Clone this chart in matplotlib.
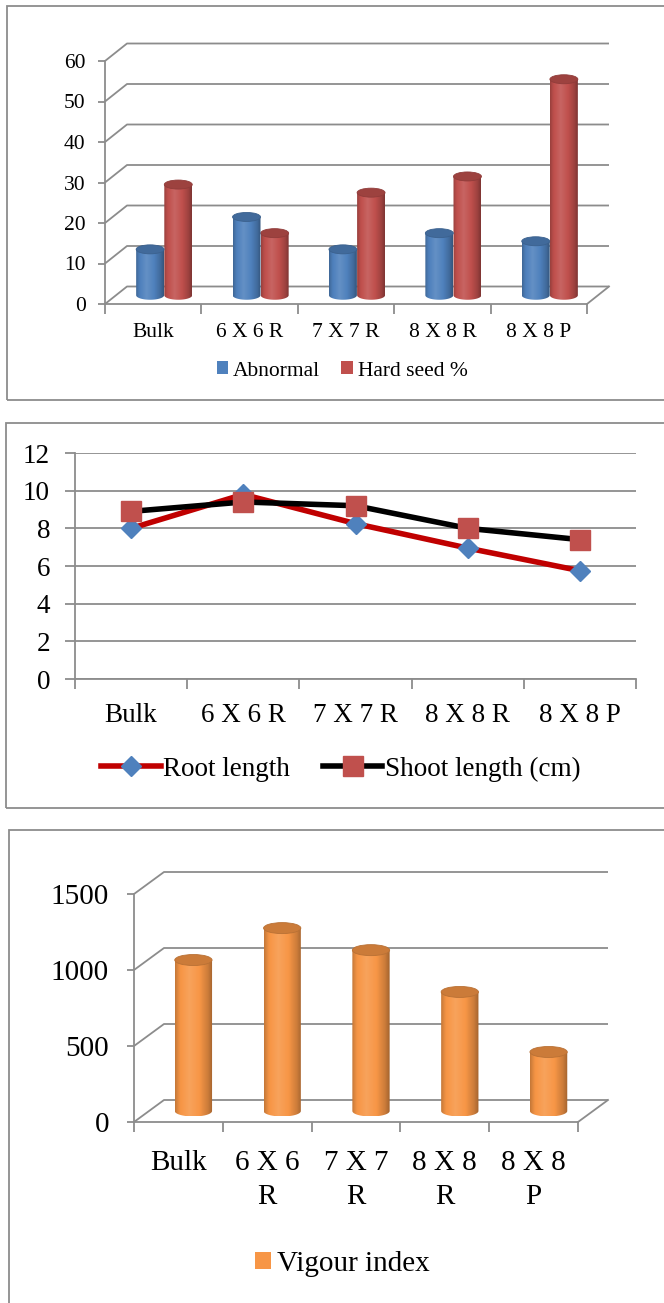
import numpy as np
import matplotlib
matplotlib.use("Agg")
import matplotlib.pyplot as plt
from matplotlib.patches import Rectangle, Ellipse, PathPatch, Patch
from matplotlib.path import Path
from matplotlib.colors import to_rgb

plt.rcParams['font.family'] = ['Liberation Serif', 'DejaVu Serif']

# ---------------- data ----------------
categories = ["Bulk", "6 X 6 R", "7 X 7 R", "8 X 8 R", "8 X 8 P"]
categories_wrapped = ["Bulk", "6 X 6\nR", "7 X 7\nR", "8 X 8\nR", "8 X 8\nP"]

abnormal = [12, 20, 12, 16, 14]
hard_seed = [28, 16, 26, 30, 54]

root_length = [8.0, 9.8, 8.25, 6.95, 5.75]
shoot_length = [8.9, 9.4, 9.2, 8.0, 7.4]

vigour_index = [1015, 1225, 1080, 805, 410]

W, H = 664, 1303
fig = plt.figure(figsize=(W / 100, H / 100), dpi=100)
fig.patch.set_facecolor("white")

GRID = "#8c8c8c"
BORDER = "#8c8c8c"


def px_axes(l, t, r, b):
    return fig.add_axes([l / W, 1 - b / H, (r - l) / W, (b - t) / H])


def border(l, t, r, b):
    fig.add_artist(Rectangle((l / W, 1 - b / H), (r - l) / W, (b - t) / H,
                             transform=fig.transFigure, fill=False,
                             ec=BORDER, lw=1.3))


def shade(color, f):
    c = np.array(to_rgb(color))
    if f >= 1:
        return c + (1 - c) * (f - 1)
    return c * f


def gradient(color, n=64):
    prof_t = [0.0, 0.12, 0.38, 0.65, 0.88, 1.0]
    prof_f = [0.80, 0.98, 1.12, 1.0, 0.82, 0.66]
    ts = np.linspace(0, 1, n)
    fs = np.interp(ts, prof_t, prof_f)
    return np.clip(np.array([shade(color, f) for f in fs]), 0, 1)


def cylinder(ax, xc, w, y0, y1, ell_h, color, z):
    x0, x1 = xc - w / 2, xc + w / 2
    t = np.linspace(0, np.pi, 40)
    bx = xc - (w / 2) * np.cos(t)
    by = y0 - (ell_h / 2) * np.sin(t)
    verts = [(x0, y1)] + list(zip(bx, by)) + [(x1, y1), (x0, y1)]
    codes = [Path.MOVETO] + [Path.LINETO] * (len(verts) - 2) + [Path.CLOSEPOLY]
    patch = PathPatch(Path(verts, codes), facecolor="none", edgecolor="none",
                      zorder=z)
    ax.add_patch(patch)
    grad = gradient(color)[np.newaxis, :, :]
    im = ax.imshow(grad, extent=(x0, x1, y0 - ell_h / 2, y1), aspect="auto",
                   interpolation="bilinear", zorder=z, clip_on=True)
    im.set_clip_path(patch)
    top = Ellipse((xc, y1), w, ell_h, facecolor=shade(color, 0.82),
                  edgecolor=shade(color, 0.75), lw=0.6, zorder=z + 0.1)
    ax.add_patch(top)


def setup_3d(ax, n, ymax, ystep, w_px, h_px, dx_px, dy_px, fs, ypad, xpad,
             labels):
    ax.set_xlim(0, n)
    ax.set_ylim(0, ymax)
    ax.set_facecolor("none")
    dxd = dx_px / w_px * n
    dyd = dy_px / h_px * ymax
    for v in np.arange(0, ymax + 0.001, ystep):
        ax.plot([0, dxd, n + dxd], [v, v + dyd, v + dyd], color=GRID, lw=1.3,
                clip_on=False, zorder=1, solid_capstyle="butt")
    ax.plot([n, n + dxd], [0, dyd], color=GRID, lw=1.3, clip_on=False, zorder=1)
    for s in ["top", "right"]:
        ax.spines[s].set_visible(False)
    for s in ["left", "bottom"]:
        ax.spines[s].set_color(GRID)
        ax.spines[s].set_linewidth(1.3)
    ax.set_yticks(np.arange(0, ymax + 0.001, ystep))
    ax.set_yticklabels([f"{int(v)}" for v in np.arange(0, ymax + 0.001, ystep)])
    ax.tick_params(axis="y", direction="out", length=5, width=1.3,
                   color=GRID, labelsize=fs, pad=ypad)
    ax.set_xticks(np.arange(0, n + 1))
    ax.set_xticklabels([])
    ax.set_xticks(np.arange(n) + 0.5, minor=True)
    ax.set_xticklabels(labels, minor=True)
    ax.tick_params(axis="x", which="major", direction="out", length=7,
                   width=1.3, color=GRID)
    ax.tick_params(axis="x", which="minor", length=0, labelsize=fs, pad=xpad)
    return dxd, dyd


n = len(categories)

# ---------------- panel 1 ----------------
border(7, 6, 700, 400)
L, T, R, B = 105, 61, 587, 304
ax1 = px_axes(L, T, R, B)
dxd, dyd = setup_3d(ax1, n, 60, 10, R - L, B - T, 22, 17.5, 15.5, 9, 14,
                    categories)
ell1 = 9 / (B - T) * 60
bw = 0.29
off = 0.146
for i in range(n):
    xc = i + 0.5 + dxd / 2
    cylinder(ax1, xc + off, bw, dyd / 2, hard_seed[i] + dyd / 2 - ell1 * 0.3,
             ell1, "#c0504d", 3)
    cylinder(ax1, xc - off, bw, dyd / 2, abnormal[i] + dyd / 2 - ell1 * 0.3,
             ell1, "#4f81bd", 4)
ax1.set_xlim(0, n)
ax1.set_ylim(0, 60)
ax1.legend(handles=[Patch(facecolor="#4f81bd"), Patch(facecolor="#c0504d")],
           labels=["Abnormal", "Hard seed %"], loc="center",
           bbox_to_anchor=(342 / W, 1 - 371 / H), bbox_transform=fig.transFigure,
           ncol=2, frameon=False, fontsize=15.5, handlelength=0.55,
           handleheight=0.55, handletextpad=0.2, columnspacing=1.0)

# ---------------- panel 2 ----------------
border(6, 423, 700, 808)
L, T, R, B = 75, 453, 636, 679
ax2 = px_axes(L, T, R, B)
x = np.arange(n) + 0.5
ax2.set_xlim(0, n)
ax2.set_ylim(0, 12)
ax2.set_yticks(np.arange(0, 13, 2))
ax2.yaxis.grid(True, color=GRID, lw=1.3)
ax2.set_axisbelow(True)
for s in ["top", "right"]:
    ax2.spines[s].set_visible(False)
for s in ["left", "bottom"]:
    ax2.spines[s].set_color(GRID)
    ax2.spines[s].set_linewidth(1.3)
ax2.tick_params(axis="y", direction="out", length=7, width=1.3, color=GRID,
                labelsize=19.5, pad=11)
ax2.set_xticks(np.arange(0, n + 1))
ax2.set_xticklabels([])
ax2.set_xticks(x, minor=True)
ax2.set_xticklabels(categories, minor=True)
ax2.tick_params(axis="x", which="major", direction="out", length=7, width=1.3,
                color=GRID)
ax2.tick_params(axis="x", which="minor", length=0, labelsize=19.5, pad=17)
l1, = ax2.plot(x, root_length, color="#c00000", lw=4.0, marker="D",
               markersize=10.5, markerfacecolor="#4f81bd",
               markeredgecolor="#4f81bd", zorder=3, clip_on=False)
l2, = ax2.plot(x, shoot_length, color="black", lw=4.0, marker="s",
               markersize=14.5, markerfacecolor="#c0504d",
               markeredgecolor="#c0504d", zorder=4, clip_on=False)
ax2.legend(handles=[l1, l2], labels=["Root length", "Shoot length (cm)"],
           loc="center", bbox_to_anchor=(341 / W, 1 - 769 / H),
           bbox_transform=fig.transFigure, ncol=2, frameon=False,
           fontsize=19.5, handlelength=2.2, handletextpad=0.1,
           columnspacing=1.2, numpoints=1)

# ---------------- panel 3 ----------------
border(9, 830, 700, 1320)
L, T, R, B = 134, 894, 578, 1122
ax3 = px_axes(L, T, R, B)
dxd3, dyd3 = setup_3d(ax3, n, 1500, 500, R - L, B - T, 30, 22, 21, 13, 20,
                      categories_wrapped)
for lab in ax3.get_xticklabels(minor=True):
    lab.set_linespacing(1.4)
ell3 = 11 / (B - T) * 1500
for i in range(n):
    xc = i + 0.5 + dxd3 / 2
    cylinder(ax3, xc, 0.42, dyd3 / 2, vigour_index[i] + dyd3 / 2 - ell3 * 0.3,
             ell3, "#f79646", 3)
ax3.set_xlim(0, n)
ax3.set_ylim(0, 1500)
ax3.legend(handles=[Patch(facecolor="#f79646")], labels=["Vigour index"],
           loc="center", bbox_to_anchor=(342 / W, 1 - 1264 / H),
           bbox_transform=fig.transFigure, frameon=False, fontsize=21,
           handlelength=0.55, handleheight=0.55, handletextpad=0.2)

fig.savefig("out.png", dpi=100)
